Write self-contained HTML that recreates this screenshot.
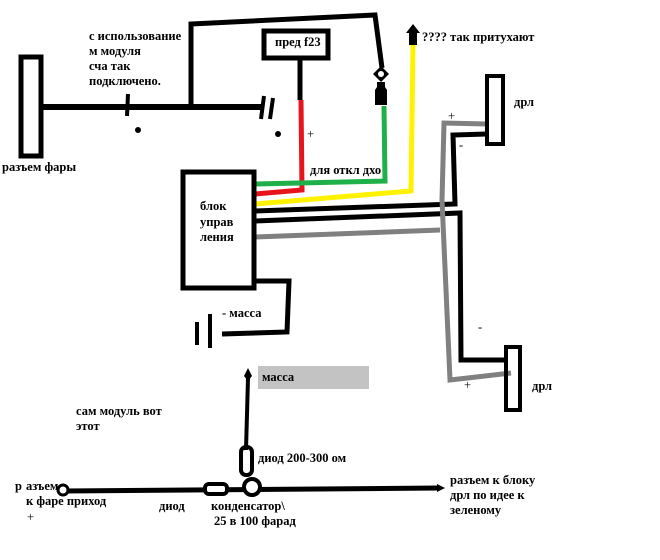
<!DOCTYPE html>
<html><head><meta charset="utf-8"><style>
html,body{margin:0;padding:0;background:#fff;}
svg{display:block}
text{font-family:"Liberation Serif","DejaVu Serif",serif;font-weight:bold;font-size:12.5px;fill:#000}
</style></head><body>
<svg width="660" height="560" viewBox="0 0 660 560" xmlns="http://www.w3.org/2000/svg">
<g fill="none" stroke-linecap="butt">
<rect x="21" y="57" width="20" height="99" stroke="#000" stroke-width="5"/>
<line x1="41" y1="107" x2="263" y2="107" stroke="#000" stroke-width="6"/>
<line x1="128" y1="94" x2="127" y2="116" stroke="#000" stroke-width="4"/>
<line x1="264" y1="96" x2="261" y2="119" stroke="#000" stroke-width="4"/>
<line x1="273" y1="98" x2="270" y2="119" stroke="#000" stroke-width="4"/>
<polyline points="191,105 191,24 375,15 382,68" stroke="#000" stroke-width="5"/>
<rect x="264" y="31" width="64" height="27" stroke="#000" stroke-width="5"/>
<line x1="300" y1="58" x2="300" y2="100" stroke="#000" stroke-width="5"/>
<polyline points="301,100 302,190 255,194" stroke="#e8141c" stroke-width="5"/>
<polyline points="384,106 385,181 255,184" stroke="#1fb04a" stroke-width="5"/>
<polyline points="413,45 411,191 255,204" stroke="#fff200" stroke-width="5"/>
<polyline points="255,211 455,204 453,135 487,134" stroke="#000" stroke-width="5"/>
<polyline points="255,221 460,213 461,360 505,360" stroke="#000" stroke-width="5"/>
<polyline points="255,237 440,230" stroke="#808080" stroke-width="5"/>
<polyline points="487,124 444,123 442,200 450,380 511,373" stroke="#808080" stroke-width="5"/>
<rect x="487" y="76" width="16" height="68" stroke="#000" stroke-width="4"/>
<rect x="506" y="347" width="14" height="63" stroke="#000" stroke-width="4"/>
<rect x="183" y="172" width="71" height="116" stroke="#000" stroke-width="5"/>
<polyline points="222,334 287,332 289,281 255,281" stroke="#000" stroke-width="5"/>
<line x1="197" y1="322" x2="197" y2="345" stroke="#000" stroke-width="4"/>
<line x1="210" y1="314" x2="210" y2="348" stroke="#000" stroke-width="4"/>
<line x1="248" y1="378" x2="246" y2="450" stroke="#000" stroke-width="4"/>
<rect x="241" y="447" width="11" height="28" rx="5" stroke="#000" stroke-width="4"/>
<line x1="65" y1="491" x2="440" y2="488" stroke="#000" stroke-width="5"/>
<circle cx="63" cy="490" r="5" stroke="#000" stroke-width="3" fill="#fff"/>
<rect x="205" y="484" width="22" height="10" rx="4" stroke="#000" stroke-width="4" fill="#fff"/>
<circle cx="252" cy="487" r="8" stroke="#000" stroke-width="4" fill="#fff"/>
</g>
<circle cx="138" cy="130" r="3" fill="#000"/>
<circle cx="278" cy="134" r="3" fill="#000"/>
<path d="M381,66 l8,8 l-8,8 l-8,-8 z" fill="#000"/>
<circle cx="381" cy="74" r="3" fill="#fff"/>
<path d="M377,82 h8 v5 l2,3 v15 h-12 v-15 l2,-3 z" fill="#000"/>
<path d="M413,24 l7,9 h-3 v12 h-8 v-12 h-3 z" fill="#000"/>
<path d="M248,368 l4,8 l-4,5 l-4,-5 z" fill="#000"/>
<path d="M445,488 l-8,-4 v8 z" fill="#000"/>
<rect x="258" y="366" width="111" height="23" fill="#c3c3c3"/>
<text x="89" y="40">с использование</text>
<text x="89" y="55">м модуля</text>
<text x="89" y="70">сча так</text>
<text x="89" y="85">подключено.</text>
<text x="275" y="46">пред f23</text>
<text x="2" y="171">разъем фары</text>
<text x="307" y="138" style="font-weight:normal">+</text>
<text x="310" y="174">для откл дхо</text>
<text x="422" y="41">???? так притухают</text>
<text x="514" y="106">дрл</text>
<text x="448" y="120" style="font-weight:normal">+</text>
<text x="459" y="149" style="font-weight:normal">-</text>
<text x="200" y="210">блок</text>
<text x="200" y="226">управ</text>
<text x="200" y="241">ления</text>
<text x="222" y="317">- масса</text>
<text x="478" y="331" style="font-weight:normal">-</text>
<text x="532" y="390">дрл</text>
<text x="464" y="389" style="font-weight:normal">+</text>
<text x="262" y="381">масса</text>
<text x="76" y="415">сам модуль вот</text>
<text x="76" y="430">этот</text>
<text x="258" y="462">диод 200-300 ом</text>
<text x="15" y="490">р</text>
<text x="26" y="490">азъем</text>
<text x="26" y="505">к фаре приход</text>
<text x="27" y="521" style="font-weight:normal">+</text>
<text x="159" y="510">диод</text>
<text x="211" y="510">конденсатор\</text>
<text x="214" y="525">25 в 100 фарад</text>
<text x="450" y="484">разъем к блоку</text>
<text x="450" y="499">дрл по идее к</text>
<text x="450" y="514">зеленому</text>
</svg>
</body></html>
